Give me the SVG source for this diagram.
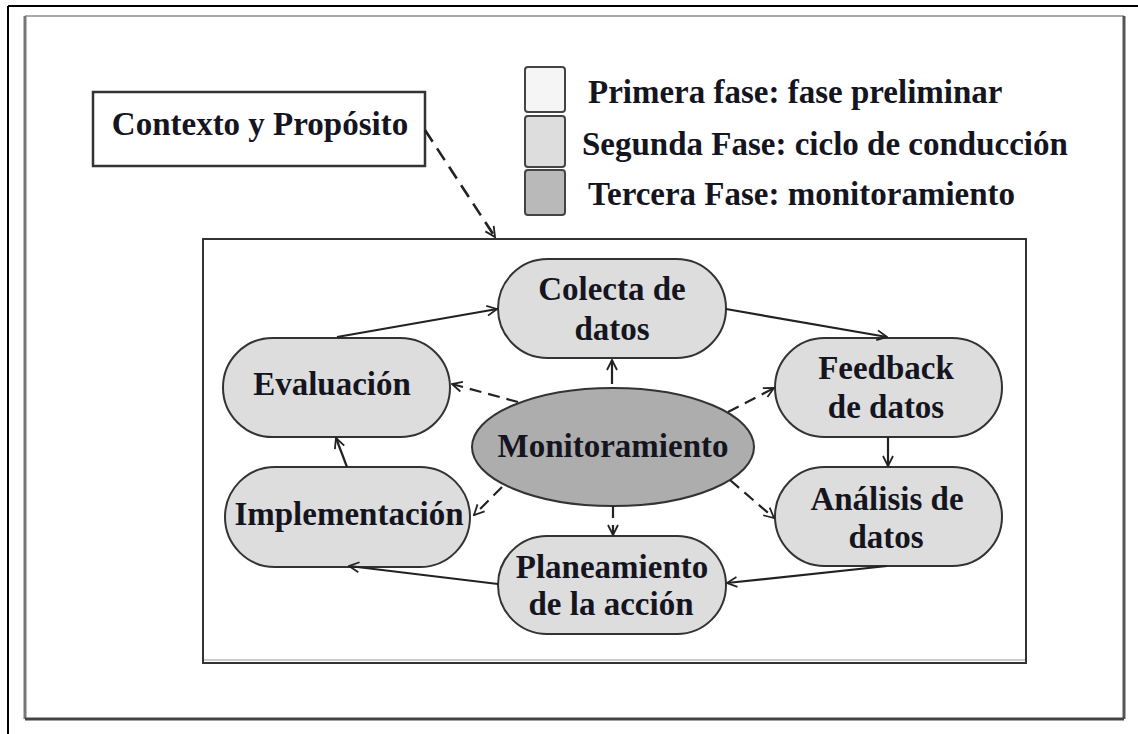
<svg xmlns="http://www.w3.org/2000/svg" width="1138" height="734" viewBox="0 0 1138 734">
<defs>
<style>
text{font-family:"Liberation Serif","Times New Roman",serif;font-weight:bold;font-size:33px;fill:#15151f;text-anchor:middle}
.leg{text-anchor:start}
.node{fill:#dddddd;stroke:#333;stroke-width:2}
.c{fill:none;stroke:#222;stroke-width:2.2;marker-end:url(#ah)}
.d{stroke-dasharray:12,7}
</style>
<marker id="ah" viewBox="0 0 12 12" refX="11" refY="6" markerWidth="12" markerHeight="12" markerUnits="userSpaceOnUse" orient="auto">
<path d="M1,1 L11,6 L1,11" fill="none" stroke="#222" stroke-width="1.8"/>
</marker>
</defs>
<rect width="1138" height="734" fill="#fff"/>
<g id="frame">
<line x1="8" y1="6" x2="1138" y2="6" stroke="#000" stroke-width="2"/>
<line x1="8" y1="6" x2="8" y2="734" stroke="#000" stroke-width="2"/>
<line x1="25" y1="16" x2="1124" y2="16" stroke="#aaa" stroke-width="2"/>
<line x1="25" y1="16" x2="25" y2="719" stroke="#777" stroke-width="3"/>
<line x1="1124" y1="16" x2="1124" y2="719" stroke="#555" stroke-width="3"/>
<line x1="25" y1="719" x2="1124" y2="719" stroke="#444" stroke-width="3"/>
</g>
<g id="main-box">
<rect x="203" y="239" width="823" height="424" fill="#fff" stroke="#333" stroke-width="2"/>
<line x1="204" y1="660" x2="1025" y2="660" stroke="#ccc" stroke-width="2"/>
</g>
<g id="contexto">
<rect x="93" y="92" width="332" height="74" fill="#fff" stroke="#333" stroke-width="2.5"/>
<text x="260" y="135">Contexto y Propósito</text>
</g>
<g id="legend">
<rect x="525" y="67" width="40" height="45" rx="3" fill="#f5f5f5" stroke="#444" stroke-width="2"/>
<rect x="525" y="116" width="40" height="51" rx="3" fill="#dddddd" stroke="#444" stroke-width="2"/>
<rect x="525" y="170" width="40" height="45" rx="3" fill="#b9b9b9" stroke="#444" stroke-width="2"/>
<text class="leg" x="588" y="103">Primera fase: fase preliminar</text>
<text class="leg" x="582" y="155">Segunda Fase: ciclo de conducción</text>
<text class="leg" x="588" y="205">Tercera Fase: monitoramiento</text>
</g>
<g id="colecta">
<rect class="node" x="498" y="259" width="228" height="99" rx="49.5"/>
<text x="612" y="300">Colecta de</text>
<text x="612" y="340">datos</text>
</g>
<g id="evaluacion">
<rect class="node" x="223" y="338" width="227" height="99" rx="49.5"/>
<text x="332" y="395">Evaluación</text>
</g>
<g id="feedback">
<rect class="node" x="775" y="338" width="227" height="99" rx="49.5"/>
<text x="886" y="379">Feedback</text>
<text x="886" y="418">de datos</text>
</g>
<g id="monitoramiento">
<ellipse cx="613" cy="447" rx="141" ry="59" fill="#adadad" stroke="#333" stroke-width="2"/>
<text x="613" y="457">Monitoramiento</text>
</g>
<g id="implementacion">
<rect class="node" x="225" y="467" width="245" height="100" rx="50"/>
<text x="349" y="525">Implementación</text>
</g>
<g id="analisis">
<rect class="node" x="775" y="467" width="227" height="99" rx="49.5"/>
<text x="887" y="510">Análisis de</text>
<text x="886" y="548">datos</text>
</g>
<g id="planeamiento">
<rect class="node" x="498" y="536" width="228" height="98" rx="49"/>
<text x="612" y="578">Planeamiento</text>
<text x="611" y="615">de la acción</text>
</g>
<g id="connectors">
<path class="c d" d="M425,130 L495,237" style="stroke-width:2.6;stroke-dasharray:14,8"/>
<path class="c" d="M337,337 L497,309"/>
<path class="c" d="M726,309 L887,337"/>
<path class="c" d="M888,437 L888,466"/>
<path class="c" d="M887,566 L727,583"/>
<path class="c" d="M498,584 L349,566"/>
<path class="c" d="M347,467 L336,438"/>
<path class="c" d="M612,384 L612,360"/>
<path class="c d" d="M518,402 L452,384"/>
<path class="c d" d="M728,412 L774,388"/>
<path class="c d" d="M502,487 L474,515"/>
<path class="c d" d="M613,506 L613,535"/>
<path class="c d" d="M730,480 L774,518"/>
</g>
</svg>
